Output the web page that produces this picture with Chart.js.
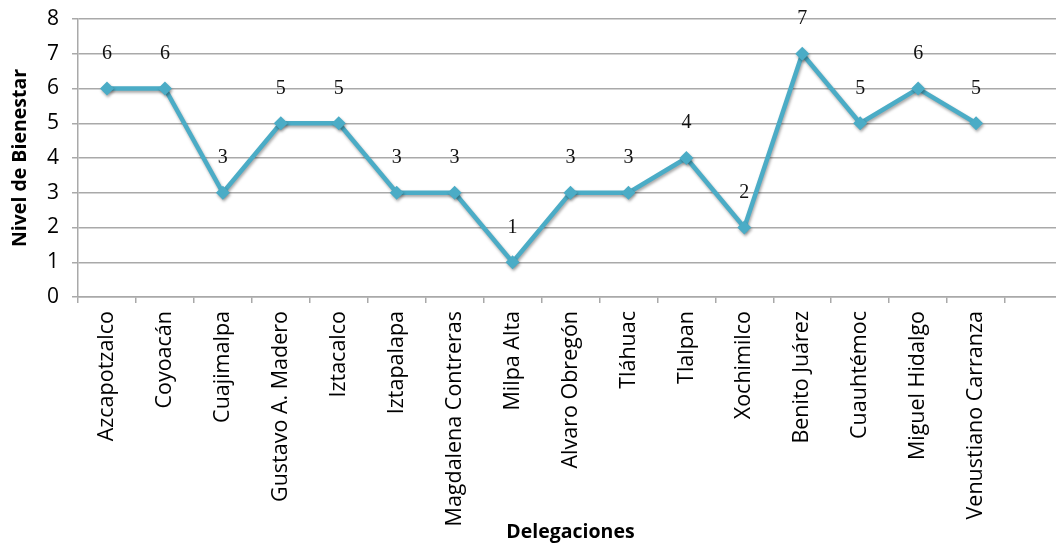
<!DOCTYPE html>
<html>
<head>
<meta charset="utf-8">
<script src="https://cdn.jsdelivr.net/npm/chart.js@4/dist/chart.umd.min.js"></script>
<style>
    html, body { margin: 0; padding: 0; background: #fff; overflow: hidden; }
    #wrap { width: 1064px; height: 549px; }
</style>
</head>
<body>
<div id="wrap"><canvas id="chart"></canvas></div>
<script>
const delegaciones = [
    'Azcapotzalco', 'Coyoacán', 'Cuajimalpa', 'Gustavo A. Madero', 'Iztacalco',
    'Iztapalapa', 'Magdalena Contreras', 'Milpa Alta', 'Alvaro Obregón', 'Tláhuac',
    'Tlalpan', 'Xochimilco', 'Benito Juárez', 'Cuauhtémoc', 'Miguel Hidalgo',
    'Venustiano Carranza', ''
];
const nivelBienestar = [6, 6, 3, 5, 5, 3, 3, 1, 3, 3, 4, 2, 7, 5, 6, 5, null];
const yTicks = [0, 1, 2, 3, 4, 5, 6, 7, 8];

const teal = '#4BACC6';
const gridColor = '#a9a9a9';
const sansFont = "'Open Sans', Lato, sans-serif";

// soft drop shadow under the line and markers
const shadowPlugin = {
    id: 'lineShadow',
    beforeDatasetDraw(chart) {
        const ctx = chart.ctx;
        ctx.save();
        ctx.shadowColor = 'rgba(0, 0, 0, 0.35)';
        ctx.shadowBlur = 3;
        ctx.shadowOffsetX = 1;
        ctx.shadowOffsetY = 2;
    },
    afterDatasetDraw(chart) {
        chart.ctx.restore();
    }
};

// value written above each point
const valueLabels = {
    id: 'valueLabels',
    afterDatasetsDraw(chart) {
        const ctx = chart.ctx;
        const meta = chart.getDatasetMeta(0);
        ctx.save();
        ctx.font = "20px 'Liberation Serif', 'Times New Roman', serif";
        ctx.fillStyle = '#111';
        ctx.textAlign = 'center';
        ctx.textBaseline = 'middle';
        meta.data.forEach((pt, i) => {
            const v = nivelBienestar[i];
            if (v === null) return;
            ctx.fillText(String(v), pt.x, pt.y - 35);
        });
        ctx.restore();
    }
};

new Chart(document.getElementById('chart'), {
    type: 'line',
    data: {
        labels: delegaciones,
        datasets: [{
            data: nivelBienestar,
            borderColor: teal,
            backgroundColor: teal,
            borderWidth: 4.5,
            pointStyle: 'rectRot',
            pointRadius: 7,
            pointBorderWidth: 0,
            pointBackgroundColor: teal,
            tension: 0,
            spanGaps: false,
            clip: false
        }]
    },
    options: {
        responsive: true,
        maintainAspectRatio: false,
        animation: false,
        layout: { autoPadding: false, padding: { top: 19, right: 1, left: 0, bottom: 0 } },
        plugins: {
            legend: { display: false },
            tooltip: { enabled: false }
        },
        scales: {
            x: {
                offset: true,
                grid: {
                    offset: true,
                    drawOnChartArea: false,
                    drawTicks: true,
                    tickLength: 6,
                    color: gridColor,
                    lineWidth: 1.5
                },
                border: { display: true, color: gridColor, width: 1.5 },
                ticks: {
                    autoSkip: false,
                    minRotation: 90,
                    maxRotation: 90,
                    padding: 8,
                    color: '#000',
                    font: { family: sansFont, size: 21.5 }
                },
                title: {
                    display: true,
                    text: 'Delegaciones',
                    color: '#000',
                    padding: { top: 0, bottom: 5 },
                    font: { family: sansFont, size: 19.5, weight: 'bold' }
                },
                afterFit(scale) {
                    scale.height = 252;
                    scale.paddingLeft = 0;
                    scale.paddingRight = 0;
                }
            },
            y: {
                min: 0,
                max: 8,
                afterBuildTicks(scale) {
                    scale.ticks = yTicks.map(v => ({ value: v }));
                },
                grid: {
                    drawTicks: true,
                    tickLength: 6,
                    color: gridColor,
                    lineWidth: 1.5
                },
                border: { display: true, color: gridColor, width: 1.5 },
                ticks: {
                    padding: 13,
                    color: '#000',
                    font: { family: sansFont, size: 21 }
                },
                title: {
                    display: true,
                    text: 'Nivel de Bienestar',
                    color: '#000',
                    padding: { top: 9, bottom: 0 },
                    font: { family: sansFont, size: 19.5, weight: 'bold' }
                },
                afterFit(scale) {
                    scale.width = 78;
                    scale.paddingTop = 0;
                    scale.paddingBottom = 0;
                }
            }
        }
    },
    plugins: [shadowPlugin, valueLabels]
});
</script>
</body>
</html>
